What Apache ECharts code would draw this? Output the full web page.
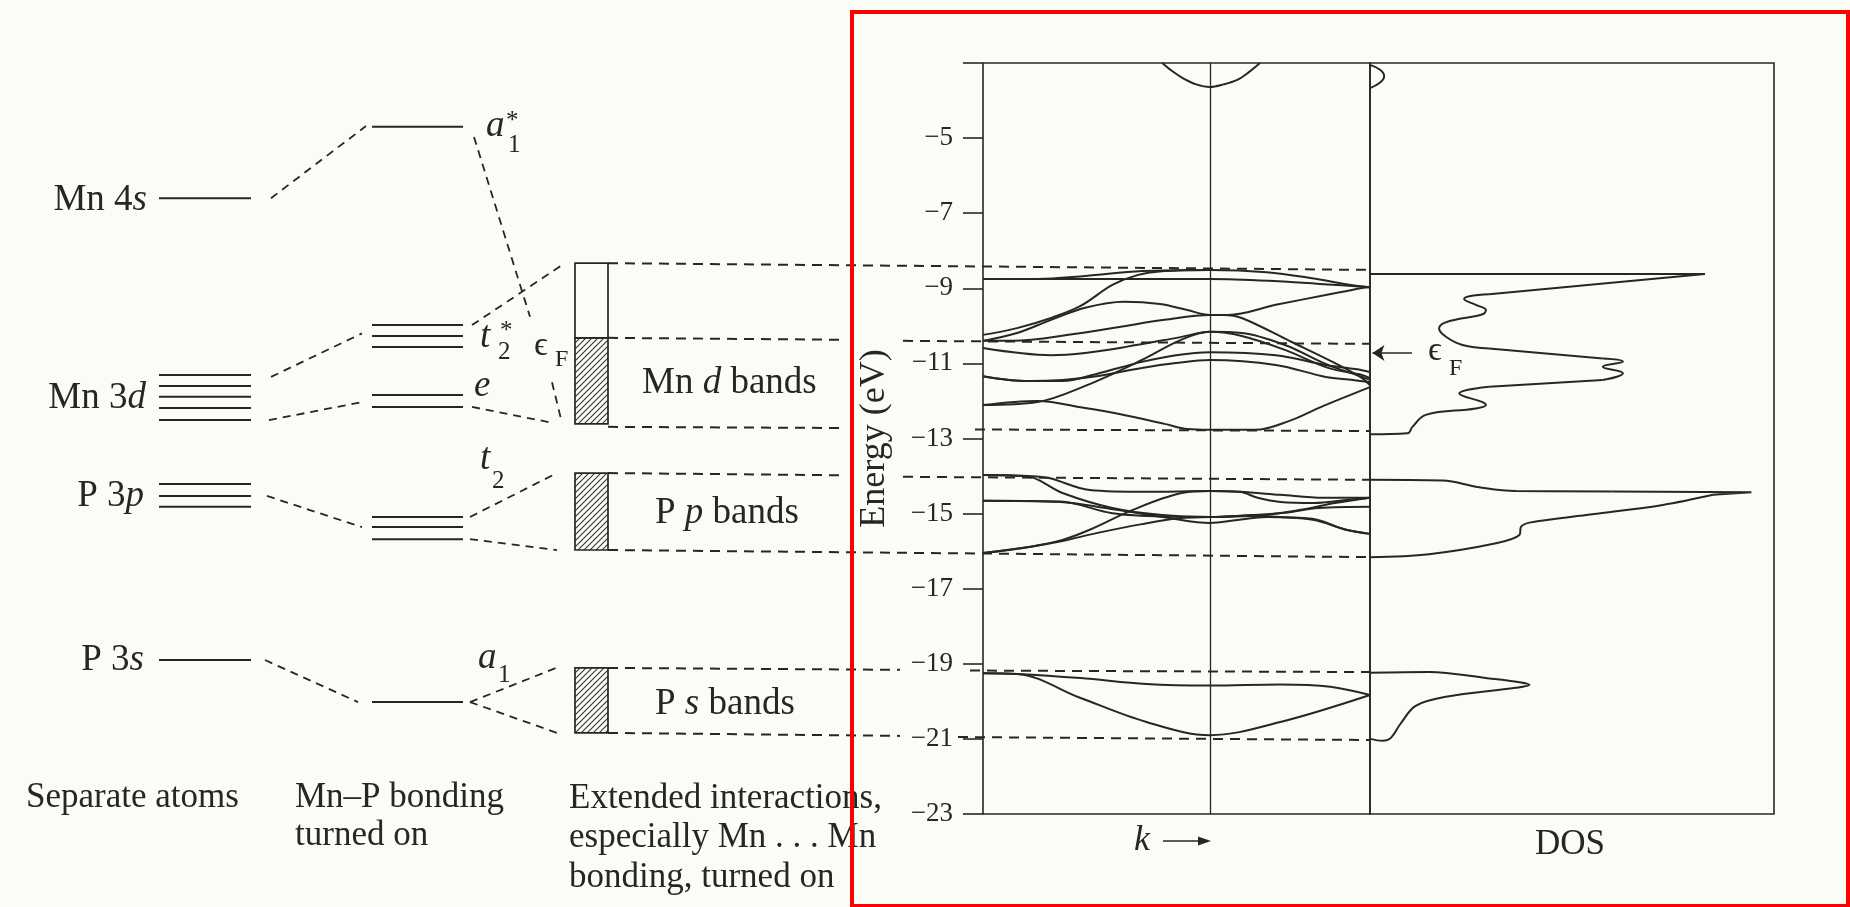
<!DOCTYPE html>
<html><head><meta charset="utf-8">
<script src="https://cdn.jsdelivr.net/npm/echarts@6/dist/echarts.min.js"></script>
<style>html,body{margin:0;padding:0;background:#fcfcf7;}#c{width:1850px;height:907px;}</style>
</head><body><div id="c"></div>
<script>
// ================= DATA =================
const energyRange = [-23, -3];
const energyTickStep = 2;

// separate-atom levels (eV)
const atomMn4s = [-6.60];
const atomMn3d = [-11.31, -11.60, -11.89, -12.19, -12.51];
const atomP3p  = [-14.21, -14.53, -14.82];
const atomP3s  = [-18.90];
// Mn–P bonding levels (eV)
const bondA1s = [-4.70];
const bondT2s = [-9.98, -10.27, -10.56];
const bondE   = [-11.84, -12.16];
const bondT2  = [-15.09, -15.36, -15.68];
const bondA1  = [-20.02];
// band boxes [top, bottom] (eV); Mn d split at the Fermi level
const boxMnD = [-8.33, -10.32, -12.61];
const boxPp  = [-13.92, -15.97];
const boxPs  = [-19.11, -20.84];
// correlation connectors [[x1,E1],[x2,E2]]
const connectors = [
  [[271,-6.60],[366,-4.68]],
  [[474,-4.97],[530,-9.76]],
  [[552,-11.50],[562,-12.59]],
  [[271,-11.36],[362,-10.20]],
  [[472,-9.98],[565,-8.33]],
  [[269,-12.51],[362,-12.03]],
  [[472,-12.16],[554,-12.59]],
  [[267,-14.53],[362,-15.36]],
  [[470,-15.09],[557,-13.92]],
  [[470,-15.68],[557,-15.97]],
  [[265,-18.90],[358,-20.02]],
  [[470,-20.02],[556,-19.11]],
  [[470,-20.02],[557,-20.84]]
];
// band-edge guide lines (segments)
const bandEdges = [
  [[608,-8.33],[1370,-8.51]],
  [[608,-10.32],[843,-10.37]], [[903,-10.40],[1370,-10.48]],
  [[608,-12.69],[843,-12.72]], [[975,-12.76],[1370,-12.80]],
  [[608,-13.92],[843,-13.98]], [[903,-14.02],[1370,-14.10]],
  [[608,-15.97],[1370,-16.16]],
  [[608,-19.11],[900,-19.16]], [[970,-19.18],[1370,-19.22]],
  [[608,-20.84],[900,-20.92]], [[958,-20.95],[1370,-21.03]]
];

// band structure [k, E]
const bandTop = [[0.79,-3.0],[0.83,-3.2],[0.88,-3.4],[0.94,-3.57],[1,-3.64],[1.06,-3.57],[1.12,-3.45],[1.17,-3.25],[1.22,-3.0]];
const mnD1 = [[0,-8.75],[0.24,-8.75],[0.45,-8.67],[0.7,-8.54],[1,-8.51],[1.25,-8.57],[1.45,-8.73],[1.6,-8.89],[1.705,-8.97]];
const mnD2 = [[0,-8.75],[0.5,-8.75],[1,-8.75],[1.3,-8.81],[1.5,-8.89],[1.705,-8.97]];
const mnD3 = [[0,-10.24],[0.15,-10.06],[0.3,-9.79],[0.43,-9.47],[0.57,-8.91],[0.68,-8.65],[0.8,-8.54],[1,-8.51]];
const mnD4 = [[0,-10.40],[0.15,-10.19],[0.3,-9.84],[0.45,-9.52],[0.62,-9.36],[0.78,-9.42],[0.9,-9.58],[1,-9.71],[1.08,-9.71],[1.29,-9.44],[1.51,-9.18],[1.67,-8.99],[1.705,-8.97]];
const mnD5 = [[0,-10.40],[0.13,-10.40],[0.4,-10.22],[0.6,-10.03],[0.8,-9.84],[1,-9.71],[1.06,-9.71],[1.14,-9.79],[1.36,-10.43],[1.54,-10.96],[1.67,-11.39],[1.705,-11.58]];
const mnD6 = [[0,-10.59],[0.3,-10.78],[0.45,-10.72],[0.63,-10.56],[0.87,-10.30],[1,-10.16],[1.14,-10.19],[1.33,-10.51],[1.52,-11.04],[1.67,-11.36],[1.705,-11.44]];
const mnD7 = [[0,-11.34],[0.2,-11.47],[0.35,-11.47],[0.5,-11.28],[0.7,-10.96],[0.85,-10.78],[1,-10.70],[1.29,-10.78],[1.51,-11.04],[1.67,-11.18],[1.705,-11.23]];
const mnD8 = [[0,-11.34],[0.2,-11.47],[0.35,-11.44],[0.5,-11.34],[0.7,-11.12],[0.85,-10.99],[1,-10.91],[1.29,-11.04],[1.51,-11.36],[1.63,-11.44],[1.705,-11.50]];
const mnD9 = [[0,-12.11],[0.24,-12.03],[0.45,-11.60],[0.7,-10.91],[0.87,-10.38],[1,-10.16],[1.14,-10.27],[1.33,-10.64],[1.52,-11.12],[1.67,-11.31],[1.705,-11.39]];
const mnD10 = [[0,-12.11],[0.24,-12.00],[0.45,-12.19],[0.6,-12.35],[0.8,-12.61],[0.9,-12.75],[1,-12.77],[1.2,-12.77],[1.35,-12.53],[1.5,-12.13],[1.705,-11.63]];
const pP1 = [[0,-13.97],[0.19,-14.00],[0.35,-14.45],[0.57,-14.85],[0.79,-15.04],[1,-15.09],[1.18,-15.04],[1.33,-14.98],[1.48,-14.85],[1.705,-14.82]];
const pP2 = [[0,-13.97],[0.2,-14.00],[0.29,-14.05],[0.47,-14.37],[0.72,-14.42],[1,-14.40],[1.13,-14.42],[1.21,-14.58],[1.31,-14.69],[1.46,-14.72],[1.6,-14.64],[1.705,-14.58]];
const pP3 = [[0,-14.66],[0.34,-14.68],[0.57,-14.99],[0.81,-15.08],[1,-15.09],[1.16,-15.06],[1.31,-15.09],[1.46,-15.17],[1.6,-15.43],[1.705,-15.54]];
const pP4 = [[0,-14.66],[0.34,-14.69],[0.54,-14.85],[0.82,-15.12],[1,-15.25],[1.12,-15.17],[1.25,-15.09],[1.45,-15.14],[1.6,-15.43],[1.705,-15.54]];
const pP5 = [[0,-16.05],[0.21,-15.88],[0.35,-15.70],[0.47,-15.43],[0.66,-14.90],[0.87,-14.46],[1,-14.40],[1.13,-14.42],[1.31,-14.50],[1.5,-14.58],[1.705,-14.58]];
const pP6 = [[0,-16.05],[0.21,-15.88],[0.35,-15.73],[0.5,-15.52],[0.7,-15.28],[0.87,-15.12],[1,-15.09],[1.2,-15.06],[1.4,-14.90],[1.55,-14.72],[1.705,-14.58]];
const pS1 = [[0,-19.25],[0.15,-19.27],[0.43,-19.38],[0.72,-19.54],[1,-19.58],[1.31,-19.55],[1.53,-19.61],[1.705,-19.83]];
const pS2 = [[0,-19.25],[0.15,-19.27],[0.43,-19.91],[0.72,-20.55],[1,-20.90],[1.31,-20.55],[1.705,-19.83]];
const kMid = 1;
const fermiArrowE = -10.72;

// density of states [DOS (% of panel), E]
const dosTop = [[0,-3.05],[2.5,-3.18],[3.5,-3.35],[2.5,-3.52],[0,-3.67]];
const dosMnSpike = [[0,-8.62],[82.9,-8.62],[29.5,-9.16]];
const dosMnWiggle = [[29.5,-9.16],[24.6,-9.21],[23.3,-9.28],[26.2,-9.44],[28.7,-9.58],[27.9,-9.69],[22.9,-9.80],[18.4,-9.92],[17.1,-10.07],[18.8,-10.29],[22.9,-10.51],[29.5,-10.60]];
const dosMnRise = [[29.5,-10.60],[57.6,-10.87]];
const dosMnSquiggle = [[57.6,-10.87],[62.6,-10.95],[57.6,-11.09],[62.6,-11.26],[57.6,-11.44]];
const dosMnReturn = [[57.6,-11.44],[29.5,-11.62]];
const dosMnTail = [[29.5,-11.62],[22.1,-11.80],[28.7,-12.11],[26.2,-12.20],[13.8,-12.37],[10.5,-12.69],[9.3,-12.86],[0,-12.89]];
const dosPpTop = [[0,-14.10],[17.9,-14.12],[27,-14.30],[36.1,-14.40],[60,-14.41]];
const dosPpSpike = [[60,-14.41],[94.4,-14.43],[84.9,-14.50]];
const dosPpTail = [[84.9,-14.50],[72.5,-14.77],[55,-15.02],[39.5,-15.24],[37.4,-15.35],[37,-15.57],[31.2,-15.79],[14.6,-16.08],[0,-16.16]];
const dosPs = [[0,-19.24],[14.6,-19.22],[29.5,-19.39],[37,-19.49],[39.5,-19.56],[36.1,-19.64],[18.8,-19.88],[11.3,-20.12],[7.6,-20.59],[5.1,-20.98],[3.1,-21.05],[0,-21.00]];

// ================= LAYOUT / STYLE =================
const INK = '#262626', BG = '#fcfcf7';
const SERIF = '"Liberation Serif","Times New Roman","DejaVu Serif",serif';
const TOP = 63, H = 751;
const COL_ATOMS = [159, 251], COL_BOND = [372, 463], COL_BOX = [575, 608];

function hatchPattern() {
  const c = document.createElement('canvas'); c.width = 6; c.height = 6;
  const g = c.getContext('2d'); g.strokeStyle = '#333'; g.lineWidth = 1.1;
  g.beginPath(); g.moveTo(0, 6); g.lineTo(6, 0); g.moveTo(-1, 1); g.lineTo(1, -1); g.moveTo(5, 7); g.lineTo(7, 5); g.stroke();
  return { image: c, repeat: 'repeat' };
}
const HATCH = hatchPattern();

const mk = (data, g, extra) => Object.assign({
  type: 'line', xAxisIndex: g, yAxisIndex: g, data, symbol: 'none', silent: true,
  animation: false, lineStyle: { color: INK, width: 2 }, z: 3
}, extra || {});

const series = [];
// levels
function levels(arr, col) { arr.forEach(E => series.push(mk([[col[0], E], [col[1], E]], 0, { lineStyle: { color: INK, width: 2 } }))); }
levels(atomMn4s, COL_ATOMS); levels(atomMn3d, COL_ATOMS); levels(atomP3p, COL_ATOMS); levels(atomP3s, COL_ATOMS);
levels(bondA1s, COL_BOND); levels(bondT2s, COL_BOND); levels(bondE, COL_BOND); levels(bondT2, COL_BOND); levels(bondA1, COL_BOND);
connectors.forEach(c => series.push(mk(c, 0, { lineStyle: { color: INK, width: 1.8, type: [8, 6] } })));
bandEdges.forEach(c => series.push(mk(c, 0, { lineStyle: { color: INK, width: 2, type: [10, 7] } })));
// boxes
series.push(mk([], 0, {
  markArea: {
    silent: true, itemStyle: { borderColor: INK, borderWidth: 1.7 },
    data: [
      [{ coord: [COL_BOX[0], boxMnD[0]], itemStyle: { color: BG } }, { coord: [COL_BOX[1], boxMnD[1]] }],
      [{ coord: [COL_BOX[0], boxMnD[1]], itemStyle: { color: HATCH } }, { coord: [COL_BOX[1], boxMnD[2]] }],
      [{ coord: [COL_BOX[0], boxPp[0]], itemStyle: { color: HATCH } }, { coord: [COL_BOX[1], boxPp[1]] }],
      [{ coord: [COL_BOX[0], boxPs[0]], itemStyle: { color: HATCH } }, { coord: [COL_BOX[1], boxPs[1]] }]
    ]
  }
}));
// bands
const bandSm = { smooth: 0.35, lineStyle: { color: INK, width: 2 } };
series.push(mk(mnD1, 1, Object.assign({}, bandSm, {
  markLine: { silent: true, symbol: ['none', 'none'], label: { show: false }, animation: false,
    lineStyle: { color: INK, width: 1.3, type: 'solid' }, data: [{ xAxis: kMid }] }
})));
[bandTop, mnD2, mnD3, mnD4, mnD5, mnD6, mnD7, mnD8, mnD9, mnD10, pP1, pP2, pP3, pP4, pP5, pP6, pS1, pS2]
  .forEach(b => series.push(mk(b, 1, bandSm)));
// DOS
const dosStyle = { lineStyle: { color: INK, width: 2 } };
series.push(mk(dosTop, 2, Object.assign({ smooth: 0.4 }, dosStyle)));
series.push(mk(dosMnSpike, 2, Object.assign({}, dosStyle, {
  markLine: { silent: true, symbol: ['none', 'arrow'], symbolSize: 12, label: { show: false }, animation: false,
    lineStyle: { color: INK, width: 1.6, type: 'solid' },
    data: [[{ coord: [10.4, fermiArrowE] }, { coord: [0.6, fermiArrowE] }]] }
})));
series.push(mk(dosMnWiggle, 2, Object.assign({ smooth: 0.4 }, dosStyle)));
series.push(mk(dosMnRise, 2, dosStyle));
series.push(mk(dosMnSquiggle, 2, Object.assign({ smooth: 0.5 }, dosStyle)));
series.push(mk(dosMnReturn, 2, dosStyle));
series.push(mk(dosMnTail, 2, Object.assign({ smooth: 0.4 }, dosStyle)));
series.push(mk(dosPpTop, 2, Object.assign({ smooth: 0.4 }, dosStyle)));
series.push(mk(dosPpSpike, 2, dosStyle));
series.push(mk(dosPpTail, 2, Object.assign({ smooth: 0.35 }, dosStyle)));
series.push(mk(dosPs, 2, Object.assign({ smooth: 0.35 }, dosStyle)));

// texts
const IT = (fs) => ({ fontStyle: 'italic', fontFamily: SERIF, fontSize: fs, fill: INK });
function T(x, y, text, fs, opt) {
  return { type: 'text', x, y, z: 50, silent: true,
    style: Object.assign({ text, fontFamily: SERIF, fontSize: fs, fill: INK, align: 'left', verticalAlign: 'middle',
      rich: { i: IT(fs) } }, opt || {}) };
}
const graphics = [
  T(147, 200, 'Mn 4{i|s}', 37, { align: 'right' }),
  T(146, 398, 'Mn 3{i|d}', 37, { align: 'right' }),
  T(144, 496, 'P 3{i|p}', 37, { align: 'right' }),
  T(144, 660, 'P 3{i|s}', 37, { align: 'right' }),
  T(486, 126, '{i|a}', 37), T(508, 145, '1', 25), T(506, 121, '*', 25),
  T(480, 337, '{i|t}', 37), T(498, 352, '2', 25), T(500, 331, '*', 25),
  T(474, 386, '{i|e}', 37),
  T(480, 459, '{i|t}', 37), T(492, 481, '2', 25),
  T(478, 658, '{i|a}', 37), T(498, 675, '1', 25),
  T(534, 346, '\u03f5', 34), T(555, 360, 'F', 24),
  T(642, 383, 'Mn {i|d} bands', 37),
  T(655, 513, 'P {i|p} bands', 37),
  T(655, 704, 'P {i|s} bands', 37),
  T(26, 798, 'Separate atoms', 35),
  T(295, 798, 'Mn\u2013P bonding', 35),
  T(295, 836, 'turned on', 35),
  T(569, 799, 'Extended interactions,', 35),
  T(569, 838, 'especially Mn . . . Mn', 35),
  T(569, 878, 'bonding, turned on', 35),
  T(1428, 351, '\u03f5', 34), T(1449, 369, 'F', 24),
  T(1134, 841, '{i|k}', 36),
  { type: 'line', z: 50, silent: true, shape: { x1: 1163, y1: 841, x2: 1203, y2: 841 }, style: { stroke: INK, lineWidth: 1.6 } },
  { type: 'polygon', z: 50, silent: true, shape: { points: [[1211, 841], [1198, 836.5], [1198, 845.5]] }, style: { fill: INK } },
  T(1570, 845, 'DOS', 35, { align: 'center' }),
  { type: 'rect', z: 100, silent: true, shape: { x: 852, y: 12, width: 996, height: 894 }, style: { fill: 'none', stroke: '#ff0000', lineWidth: 4 } }
];

const hidden = { show: false };
const option = {
  backgroundColor: BG,
  animation: false,
  grid: [
    { left: 0, top: TOP, width: 1370, height: H, show: false },
    { left: 983, top: TOP, width: 387, height: H, show: true, borderColor: INK, borderWidth: 1.6, backgroundColor: 'transparent' },
    { left: 1370, top: TOP, width: 404, height: H, show: true, borderColor: INK, borderWidth: 1.6, backgroundColor: 'transparent' }
  ],
  xAxis: [
    { gridIndex: 0, type: 'value', min: 0, max: 1370, show: false },
    { gridIndex: 1, type: 'value', min: 0, max: 1.705, show: false },
    { gridIndex: 2, type: 'value', min: 0, max: 100, show: false }
  ],
  yAxis: [
    { gridIndex: 0, type: 'value', min: energyRange[0], max: energyRange[1], show: false },
    { gridIndex: 1, type: 'value', min: energyRange[0], max: energyRange[1], interval: energyTickStep,
      axisLine: { show: false }, splitLine: { show: false },
      axisTick: { show: true, inside: false, length: 20, lineStyle: { color: INK, width: 1.6 } },
      axisLabel: { margin: 30, fontFamily: SERIF, fontSize: 27, color: INK,
        formatter: v => (v === energyRange[1] ? '' : '\u2212' + Math.abs(v)) },
      name: 'Energy (eV)', nameLocation: 'middle', nameGap: 90,
      nameTextStyle: { fontFamily: SERIF, fontSize: 36, color: INK } },
    { gridIndex: 2, type: 'value', min: energyRange[0], max: energyRange[1], show: false }
  ],
  series,
  graphic: graphics
};
const chart = echarts.init(document.getElementById('c'), null, { renderer: 'canvas' });
chart.setOption(option);
</script>
</body></html>
